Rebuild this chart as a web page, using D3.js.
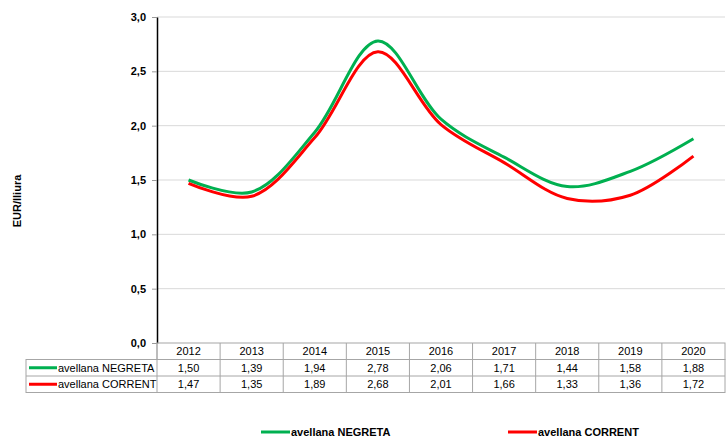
<!DOCTYPE html>
<html>
<head>
<meta charset="utf-8">
<script src="https://cdn.jsdelivr.net/npm/d3@7"></script>
<style>
body { margin: 0; background: #fff; }
svg { font-family: "Liberation Sans", Arial, sans-serif; }
</style>
</head>
<body>
<div id="chart"></div>
<script>
var years = ["2012", "2013", "2014", "2015", "2016", "2017", "2018", "2019", "2020"];
var negreta = [1.50, 1.39, 1.94, 2.78, 2.06, 1.71, 1.44, 1.58, 1.88];
var corrent = [1.47, 1.35, 1.89, 2.68, 2.01, 1.66, 1.33, 1.36, 1.72];
var seriesNames = ["avellana NEGRETA", "avellana CORRENT"];
var seriesColors = ["#00b050", "#ff0000"];
var yTicks = [0, 0.5, 1, 1.5, 2, 2.5, 3];

var W = 726, H = 437;
var plotLeft = 157, plotRight = 725, plotTop = 17, plotBottom = 343;
var rowH = 16.5;

var svg = d3.select("#chart").append("svg").attr("width", W).attr("height", H);

var x = d3.scaleBand().domain(years).range([plotLeft, plotRight]);
var y = d3.scaleLinear().domain([0, 3]).range([plotBottom, plotTop]);
var fmt = function(v) { return d3.format(".2f")(v).replace(".", ","); };
var fmt1 = function(v) { return d3.format(".1f")(v).replace(".", ","); };

// gridlines
svg.append("g").selectAll("line").data(yTicks.slice(1)).enter().append("line")
	.attr("x1", plotLeft).attr("x2", plotRight)
	.attr("y1", d => y(d)).attr("y2", d => y(d))
	.attr("stroke", "#d9d9d9").attr("stroke-width", 1);

// y axis
var yAxis = svg.append("g").attr("transform", `translate(${plotLeft},0)`)
	.call(d3.axisLeft(y).tickValues(yTicks).tickFormat(fmt1).tickSize(5).tickSizeOuter(0));
yAxis.select(".domain").attr("stroke", "#000").attr("stroke-width", 1.5);
yAxis.selectAll(".tick line").attr("stroke", "#999");
yAxis.selectAll(".tick text")
	.attr("x", -11).attr("dy", "0.32em")
	.style("font-size", "11px").style("font-weight", "bold").attr("fill", "#000");

// y title
svg.append("text")
	.attr("transform", "translate(21,201) rotate(-90)")
	.attr("text-anchor", "middle")
	.style("font-size", "11px").style("font-weight", "bold")
	.text("EUR/lliura");

// lines
var line = d3.line()
	.x((d, i) => x(years[i]) + x.bandwidth() / 2)
	.y(d => y(d))
	.curve(d3.curveCatmullRom.alpha(0.5));

[negreta, corrent].forEach(function(s, k) {
	svg.append("path").datum(s)
		.attr("d", line)
		.attr("fill", "none")
		.attr("stroke", seriesColors[k])
		.attr("stroke-width", 3)
		.attr("stroke-linejoin", "round");
});

// data table
var table = svg.append("g");
var tblLeft = 26;
var tableBorder = "#a6a6a6";
table.append("rect").attr("x", plotLeft).attr("y", plotBottom).attr("width", plotRight - plotLeft).attr("height", rowH)
	.attr("fill", "none").attr("stroke", tableBorder);
table.append("rect").attr("x", tblLeft).attr("y", plotBottom + rowH).attr("width", plotRight - tblLeft).attr("height", rowH * 2)
	.attr("fill", "none").attr("stroke", tableBorder);
table.append("line").attr("x1", tblLeft).attr("x2", plotRight)
	.attr("y1", plotBottom + rowH * 2).attr("y2", plotBottom + rowH * 2).attr("stroke", tableBorder);
table.selectAll(".vsep").data(years).enter().append("line")
	.attr("x1", d => x(d)).attr("x2", d => x(d))
	.attr("y1", plotBottom).attr("y2", plotBottom + rowH * 3)
	.attr("stroke", tableBorder);

table.selectAll(".yr").data(years).enter().append("text")
	.attr("x", d => x(d) + x.bandwidth() / 2)
	.attr("y", plotBottom + rowH / 2).attr("dy", "0.35em")
	.attr("text-anchor", "middle").style("font-size", "11px")
	.text(d => d);

[negreta, corrent].forEach(function(s, k) {
	var ry = plotBottom + rowH * (k + 1) + rowH / 2;
	table.append("line").attr("x1", tblLeft + 3).attr("x2", tblLeft + 31)
		.attr("y1", ry).attr("y2", ry)
		.attr("stroke", seriesColors[k]).attr("stroke-width", 3);
	table.append("text").attr("x", tblLeft + 32).attr("y", ry).attr("dy", "0.35em")
		.style("font-size", "11px").text(seriesNames[k]);
	table.selectAll(".v" + k).data(s).enter().append("text")
		.attr("x", (d, i) => x(years[i]) + x.bandwidth() / 2)
		.attr("y", ry).attr("dy", "0.35em")
		.attr("text-anchor", "middle").style("font-size", "11px")
		.text(d => fmt(d));
});

// legend
var legendX = [261, 508];
seriesNames.forEach(function(n, k) {
	var lg = svg.append("g").attr("transform", `translate(${legendX[k]},432)`);
	lg.append("line").attr("x1", 0).attr("x2", 29).attr("y1", 0).attr("y2", 0)
		.attr("stroke", seriesColors[k]).attr("stroke-width", 3);
	lg.append("text").attr("x", 30).attr("y", 0).attr("dy", "0.35em")
		.style("font-size", "11px").style("font-weight", "bold").text(n);
});
</script>
</body>
</html>
